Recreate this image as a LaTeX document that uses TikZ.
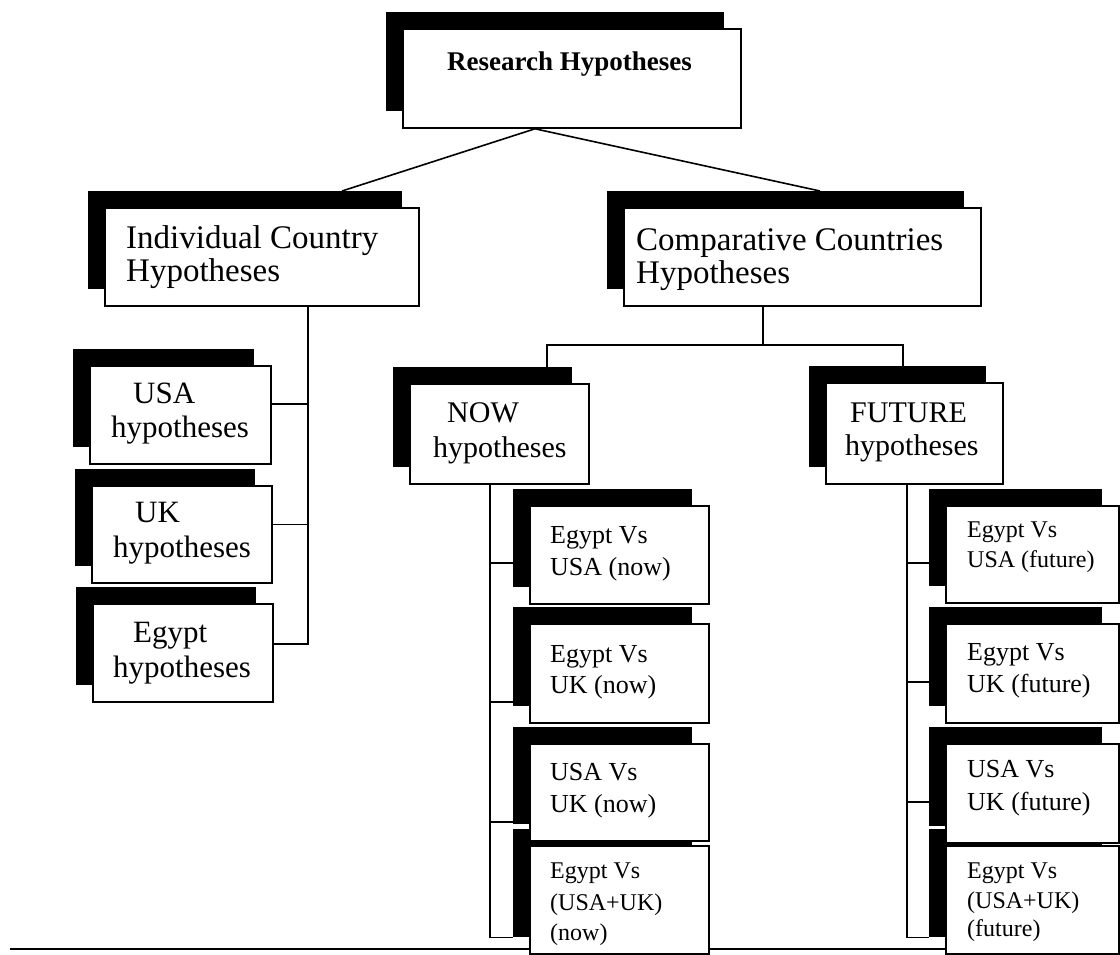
\documentclass[tikz,border=0pt]{standalone}
\usepackage{fontspec}
\setmainfont{Liberation Serif}
\usetikzlibrary{calc}

\tikzset{
  hbox/.style={draw=black, fill=white, line width=1.8pt, inner sep=0pt, anchor=north west},
  hshade/.style={fill=black, draw=none, inner sep=0pt, anchor=north west},
  conn/.style={draw=black, line width=1.6pt},
  rulestyle/.style={draw=black, line width=1.8pt},
  txt/.style={inner sep=0pt, anchor=base west, text=black},
}

% shadow: same size as its box, shifted up and left
\newcommand{\shadowrect}[5]{%
  \node[hshade, minimum width=#4pt, minimum height=#5pt] (#1s) at (#2-16,#3-16) {};}
\newcommand{\whitebox}[5]{%
  \node[hbox, minimum width=#4pt, minimum height=#5pt] (#1) at (#2,#3) {};}

\begin{document}
\begin{tikzpicture}[x=1pt,y=-1pt]
\useasboundingbox (0,0) rectangle (1120,955);

% rule along the foot of the page
\coordinate (ruleL) at (10,949);
\draw[rulestyle] (ruleL) -- (ruleL -| 945,949);

% shadows first
\shadowrect{top}{402}{28}{338}{99}
\shadowrect{ind}{104}{207}{314}{98}
\shadowrect{comp}{623}{207}{357}{98}
\shadowrect{usa}{89}{365}{181}{98}
\shadowrect{uk}{91}{485}{180}{97}
\shadowrect{egy}{92}{603}{180}{98}
\shadowrect{now}{409}{383}{179}{100}
\shadowrect{fut}{825}{382}{177}{101}
\shadowrect{na}{529}{505}{179}{98}
\shadowrect{nb}{529}{623}{179}{99}
\shadowrect{nc}{529}{743}{179}{97}
\shadowrect{nd}{529}{845}{179}{108}
\shadowrect{fa}{945}{505}{173}{97}
\shadowrect{fb}{945}{623}{173}{99}
\shadowrect{fc}{945}{743}{173}{99}
\shadowrect{fd}{945}{845}{173}{108}

% white boxes
\whitebox{top}{402}{28}{338}{99}
\whitebox{ind}{104}{207}{314}{98}
\whitebox{comp}{623}{207}{357}{98}
\whitebox{usa}{89}{365}{181}{98}
\whitebox{uk}{91}{485}{180}{97}
\whitebox{egy}{92}{603}{180}{98}
\whitebox{now}{409}{383}{179}{100}
\whitebox{fut}{825}{382}{177}{101}
\whitebox{na}{529}{505}{179}{98}
\whitebox{nb}{529}{623}{179}{99}
\whitebox{nc}{529}{743}{179}{97}
\whitebox{nd}{529}{845}{179}{108}
\whitebox{fa}{945}{505}{173}{97}
\whitebox{fb}{945}{623}{173}{99}
\whitebox{fc}{945}{743}{173}{99}
\whitebox{fd}{945}{845}{173}{108}

% top level split
\draw[conn] ([xshift=133pt]top.south west) -- ([xshift=254pt]inds.north west);
\draw[conn] ([xshift=133pt]top.south west) -- ([xshift=213pt]comps.north west);

% individual country bracket
\coordinate (indtrunk) at ($(ind.south west)+(204,0)$);
\coordinate (usahook) at ([yshift=11pt]usa.east);
\coordinate (ukhook) at ([yshift=10pt]uk.east);
\coordinate (egyhook) at ([yshift=9pt]egy.east);
\draw[conn] (indtrunk) -- (indtrunk |- egyhook) -- (egyhook);
\draw[conn] (usahook) -- (usahook -| indtrunk);
\draw[conn] (ukhook) -- (ukhook -| indtrunk);

% comparative split
\coordinate (comptrunk) at ($(comp.south west)+(140,38)$);
\coordinate (nowtop) at ($(nows.north west)+(154,0)$);
\coordinate (futtop) at ($(futs.north west)+(94,0)$);
\draw[conn] (comptrunk |- comp.south) -- (comptrunk);
\draw[conn] (nowtop) -- (nowtop |- comptrunk) -- (futtop |- comptrunk) -- (futtop);

% now bracket
\coordinate (nowtrunk) at ($(now.south west)+(81,0)$);
\coordinate (nahook) at ($(nas.north west)+(0,74)$);
\coordinate (nbhook) at ($(nbs.north west)+(0,95)$);
\coordinate (nchook) at ($(ncs.north west)+(0,95)$);
\coordinate (ndhook) at (nds.south west);
\draw[conn] (nowtrunk) -- (nowtrunk |- ndhook) -- (ndhook);
\draw[conn] (nahook) -- (nahook -| nowtrunk);
\draw[conn] (nbhook) -- (nbhook -| nowtrunk);
\draw[conn] (nchook) -- (nchook -| nowtrunk);

% future bracket
\coordinate (futtrunk) at ($(fut.south west)+(82,0)$);
\coordinate (fahook) at ($(fas.north west)+(0,74)$);
\coordinate (fbhook) at ($(fbs.north west)+(0,75)$);
\coordinate (fchook) at ($(fcs.north west)+(0,75)$);
\coordinate (fdhook) at (fds.south west);
\draw[conn] (futtrunk) -- (futtrunk |- fdhook) -- (fdhook);
\draw[conn] (fahook) -- (fahook -| futtrunk);
\draw[conn] (fbhook) -- (fbhook -| futtrunk);
\draw[conn] (fchook) -- (fchook -| futtrunk);

% labels
\node[txt, font=\fontsize{27}{30}\selectfont\bfseries] (t-top) at (447,71) {Research Hypotheses};

\begin{scope}[every node/.append style={font=\fontsize{33}{36}\selectfont}]
\node[txt] (t-ind1) at (126,248) {Individual Country};
\node[txt] (t-ind2) at (126,281) {Hypotheses};
\node[txt] (t-comp1) at (636,250) {Comparative Countries};
\node[txt] (t-comp2) at (636,283) {Hypotheses};
\end{scope}

\begin{scope}[every node/.append style={font=\fontsize{31}{34}\selectfont}]
\node[txt] (t-usa1) at (133,403) {USA};
\node[txt] (t-usa2) at (111,437) {hypotheses};
\node[txt] (t-uk1) at (135,522) {UK};
\node[txt] (t-uk2) at (113,557) {hypotheses};
\node[txt] (t-egy1) at (133,642) {Egypt};
\node[txt] (t-egy2) at (113,677) {hypotheses};
\end{scope}

\begin{scope}[every node/.append style={font=\fontsize{30}{33}\selectfont}]
\node[txt] (t-now1) at (447,422) {NOW};
\node[txt] (t-now2) at (433,457) {hypotheses};
\node[txt] (t-fut1) at (850,422) {FUTURE};
\node[txt] (t-fut2) at (845,455) {hypotheses};
\end{scope}

\begin{scope}[every node/.append style={font=\fontsize{26}{29}\selectfont}]
\node[txt] (t-na1) at (550,543) {Egypt Vs};
\node[txt] (t-na2) at (550,575) {USA (now)};
\node[txt] (t-nb1) at (550,662) {Egypt Vs};
\node[txt] (t-nb2) at (550,693) {UK (now)};
\node[txt] (t-nc1) at (550,780) {USA Vs};
\node[txt] (t-nc2) at (550,812) {UK (now)};
\node[txt] (t-fb1) at (967,660) {Egypt Vs};
\node[txt] (t-fb2) at (967,692) {UK (future)};
\node[txt] (t-fc1) at (967,777) {USA Vs};
\node[txt] (t-fc2) at (967,810) {UK (future)};
\end{scope}

\begin{scope}[every node/.append style={font=\fontsize{24}{27}\selectfont}]
\node[txt] (t-nd1) at (550,878) {Egypt Vs};
\node[txt] (t-nd2) at (550,910) {(USA+UK)};
\node[txt] (t-nd3) at (550,940) {(now)};
\node[txt] (t-fa1) at (967,537) {Egypt Vs};
\node[txt] (t-fa2) at (967,567) {USA (future)};
\node[txt] (t-fd1) at (967,878) {Egypt Vs};
\node[txt] (t-fd2) at (967,908) {(USA+UK)};
\node[txt] (t-fd3) at (967,936) {(future)};
\end{scope}
\end{tikzpicture}
\end{document}
